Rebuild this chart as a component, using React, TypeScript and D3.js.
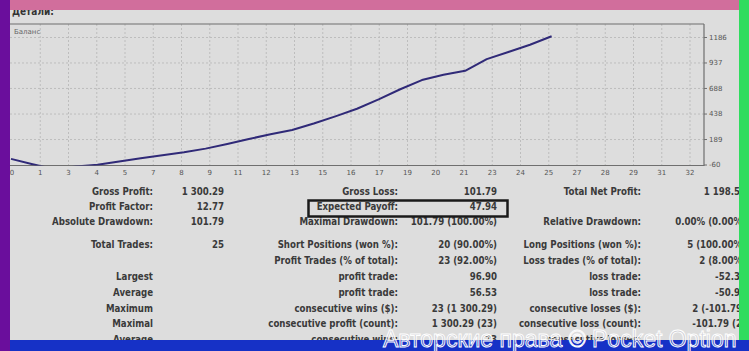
import React from 'react';
import * as d3 from 'd3';

// ---- data ----
const xTickLabels = ['0','1','3','4','5','7','8','9','11','12','13','15','16','17','19','20','21','23','24','25','27','28','29','31','32'];
const yTickValues = [-60, 189, 438, 688, 937, 1186];
const tradeNumbers = [0,1,2,3,4,5,6,7,8,9,10,11,12,13,14,15,16,17,18,19,20,21,22,23,24,25];
const balance = [0,-52,-102,-75,-58,-25,5,35,65,100,145,194,240,282,345,415,490,581,680,770,822,860,975,1045,1115,1198];

const col1Labels = ['Gross Profit:','Profit Factor:','Absolute Drawdown:','Total Trades:','','Largest','Average','Maximum','Maximal','Average'];
const col1Values = ['1 300.29','12.77','101.79','25','','','','','',''];
const col2Labels = ['Gross Loss:','Expected Payoff:','Maximal Drawdown:','Short Positions (won %):','Profit Trades (% of total):','profit trade:','profit trade:','consecutive wins ($):','consecutive profit (count):','consecutive wins:'];
const col2Values = ['101.79','47.94','101.79 (100.00%)','20 (90.00%)','23 (92.00%)','96.90','56.53','23 (1 300.29)','1 300.29 (23)','23'];
const col3Labels = ['Total Net Profit:','','Relative Drawdown:','Long Positions (won %):','Loss trades (% of total):','loss trade:','loss trade:','consecutive losses ($):','consecutive loss (count):','consecutive losses:'];
const col3Values = ['1 198.50','','0.00% (0.00%)','5 (100.00%)','2 (8.00%)','-52.32','-50.90','2 (-101.79)','-101.79 (2)','2'];

const headerText = 'Детали:';
const seriesLabel = 'Баланс';
const watermark = 'Авторские права © Pocket Option';

export default function App() {
  const W = 749, H = 351;
  const frameL = 10, frameR = 704, frameT = 24, frameB = 165.5;
  const x = d3.scaleLinear().domain([0, 32]).range([11, 703]);
  const xl = d3.scalePoint<string>().domain(xTickLabels).range([12, 690]);
  const y = d3.scaleLinear().domain([-60, 1186]).range([165, 37.5]);
  const line = d3.line<number>().x((_, i) => x(tradeNumbers[i])).y((d) => y(d));
  const rowY = [192, 207, 222, 245, 261, 277, 293, 309, 324, 340];
  const tableFont = "'Liberation Sans Narrow', 'DejaVu Sans Condensed', 'Arial Narrow', sans-serif";
  const tickFont = "'DejaVu Sans', sans-serif";
  const txt = '#3a3a3a';

  return (
    <svg width={W} height={H} style={{ position: 'fixed', left: 0, top: 0 }}>
      <defs>
        <clipPath id="plot">
          <rect x={frameL} y={frameT} width={frameR - frameL} height={frameB - frameT} />
        </clipPath>
      </defs>
      <rect x={0} y={0} width={W} height={H} fill="#dddddd" />
      <text x={12} y={14.5} fontFamily={tableFont} fontWeight="bold" fontSize={10} fill="#333">{headerText}</text>

      {/* grid */}
      {yTickValues.slice(1).map((v) => (
        <line key={'h' + v} x1={frameL} x2={frameR} y1={y(v)} y2={y(v)} stroke="#bdbdbd" strokeDasharray="2,2" />
      ))}
      {xTickLabels.slice(1).map((l) => (
        <line key={'v' + l} x1={xl(l)} x2={xl(l)} y1={frameT} y2={frameB} stroke="#bdbdbd" strokeDasharray="2,2" />
      ))}

      {/* frame */}
      <line x1={frameL} x2={frameR} y1={frameT} y2={frameT} stroke="#6f6f6f" strokeWidth={1.2} />
      <line x1={frameL} x2={frameR + 0.5} y1={frameB} y2={frameB} stroke="#6f6f6f" strokeWidth={1.2} />
      <line x1={frameR} x2={frameR} y1={frameT} y2={frameB} stroke="#6f6f6f" strokeWidth={1.2} />

      {/* balance line */}
      <path d={line(balance) || ''} fill="none" stroke="#302a78" strokeWidth={2} strokeLinejoin="round" clipPath="url(#plot)" />

      <text x={14} y={34} fontFamily={tickFont} fontSize={7} fill="#666">{seriesLabel}</text>

      {/* y ticks */}
      {yTickValues.map((v) => (
        <g key={'yt' + v}>
          <line x1={frameR} x2={frameR + 3} y1={y(v)} y2={y(v)} stroke="#6f6f6f" />
          <text x={frameR + 5} y={y(v)} dy="0.35em" fontFamily={tickFont} fontSize={7} fill="#555">{v}</text>
        </g>
      ))}
      {/* x ticks */}
      {xTickLabels.map((l) => (
        <text key={'xt' + l} x={xl(l)} y={175} textAnchor="middle" fontFamily={tickFont} fontSize={7} fill="#555">{l}</text>
      ))}

      {/* stats table */}
      {rowY.map((ry, i) => (
        <g key={'r' + i} fontFamily={tableFont} fontWeight="bold" fontSize={9.6} fill={txt} textAnchor="end">
          <text x={153} y={ry} dy="0.35em">{col1Labels[i]}</text>
          <text x={224} y={ry} dy="0.35em">{col1Values[i]}</text>
          <text x={398} y={ry} dy="0.35em">{col2Labels[i]}</text>
          <text x={497} y={ry} dy="0.35em">{col2Values[i]}</text>
          <text x={641} y={ry} dy="0.35em">{col3Labels[i]}</text>
          <text x={746} y={ry} dy="0.35em">{col3Values[i]}</text>
        </g>
      ))}
      <rect x={308.5} y={200.5} width={199} height={16} fill="none" stroke="#1a1a1a" strokeWidth={2.5} />

      {/* colored borders */}
      <rect x={10} y={0} width={729} height={10} fill="#d16e9c" />
      <rect x={739} y={0} width={10} height={340} fill="#2fdc5e" />
      <rect x={10} y={340} width={739} height={11} fill="#1631c6" />
      <rect x={0} y={0} width={10} height={351} fill="#6a0e9c" />

      {/* watermark */}
      <text x={383} y={347} fontFamily="'Liberation Sans', Arial, sans-serif" fontSize={23}
        fill="rgba(170,170,190,0.3)" stroke="#ffffff" strokeWidth={0.9}>{watermark}</text>
    </svg>
  );
}
